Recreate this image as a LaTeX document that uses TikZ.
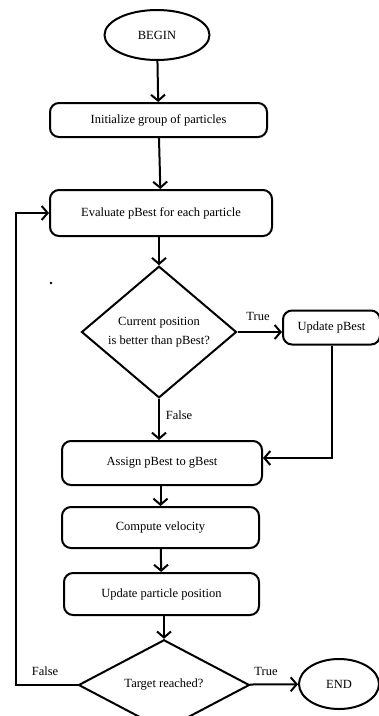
\documentclass[tikz,border=0pt]{standalone}
\usepackage{fontspec}
\setmainfont{Liberation Serif}
\usepackage{tikz}
\usetikzlibrary{shapes,arrows,arrows.meta,positioning,fit}

\begin{document}
\begin{tikzpicture}[x=1pt, y=-1pt]
			\tikzstyle{Terminal}	= [ellipse, draw, line width=2pt, inner sep=0pt, font=\fontsize{12.5}{14}\selectfont]
			\tikzstyle{Step}		= [rectangle, draw, rounded corners=9pt, line width=2pt, inner sep=0pt, font=\fontsize{12.5}{14}\selectfont]
			\tikzstyle{Decision}	= [diamond, draw, line width=2pt, inner sep=0pt, align=center, font=\fontsize{12.5}{19}\selectfont]
			\tikzstyle{Flow}		= [line width=2pt, -{Straight Barb[length=6pt, width=14pt]}]
			\tikzstyle{Branch}		= [font=\fontsize{12.5}{14}\selectfont]

			\useasboundingbox (0, 0) rectangle (379, 716);
			\clip (0, 0) rectangle (379, 716);

			\node (begin) at (157, 35) [Terminal, minimum width=105, minimum height=50] {BEGIN};
			\node (init) at (158.5, 120) [Step, minimum width=217, minimum height=34] {Initialize group of particles};
			\node (eval) at (161, 213) [Step, minimum width=222, minimum height=46] {Evaluate pBest for each particle};
			\node (better) at (159, 332) [Decision, minimum width=155, minimum height=128] {Current position\\is better than pBest?};
			\node (upd) at (331.5, 327.5) [Step, minimum width=97, minimum height=34] {Update pBest};
			\node (assign) at (162, 463) [Step, minimum width=200, minimum height=44] {Assign pBest to gBest};
			\node (velo) at (160.5, 527.5) [Step, minimum width=197, minimum height=41] {Compute velocity};
			\node (pos) at (161.5, 594) [Step, minimum width=195, minimum height=42] {Update particle position};
			\node (target) at (164, 685) [Decision, minimum width=171, minimum height=68] {Target reached?};
			\node (end) at (339, 684) [Terminal, minimum width=80, minimum height=50] {END};
			\coordinate (loop) at (16, 685);
			\coordinate (bend) at (331.5, 458);

			\fill (51, 283) circle (1.4);

			\draw [Flow] (begin) to (init);
			\draw [Flow] (init) to (eval);
			\draw [Flow] (eval.south -| better.north) to (better.north);
			\draw [Flow] (better.east) to (better.east -| upd.west);
			\draw [Flow] (better) to (better.south |- assign.north);
			\draw [Flow] (upd.south) -- (bend) to (bend -| assign.east);
			\draw [Flow] (assign.south -| velo.north) to (velo);
			\draw [Flow] (velo) to (pos);
			\draw [Flow] (pos.south -| target.north) to (target.north);
			\draw [Flow] (target) to (end);
			\draw [Flow] (target.west) -- (loop) -- (loop |- eval.west) to (eval.west);

			\node at (258, 316) [Branch] {True};
			\node at (179, 415) [Branch] {False};
			\node at (45, 671) [Branch] {False};
			\node at (266, 671) [Branch] {True};
		\end{tikzpicture}
\end{document}
